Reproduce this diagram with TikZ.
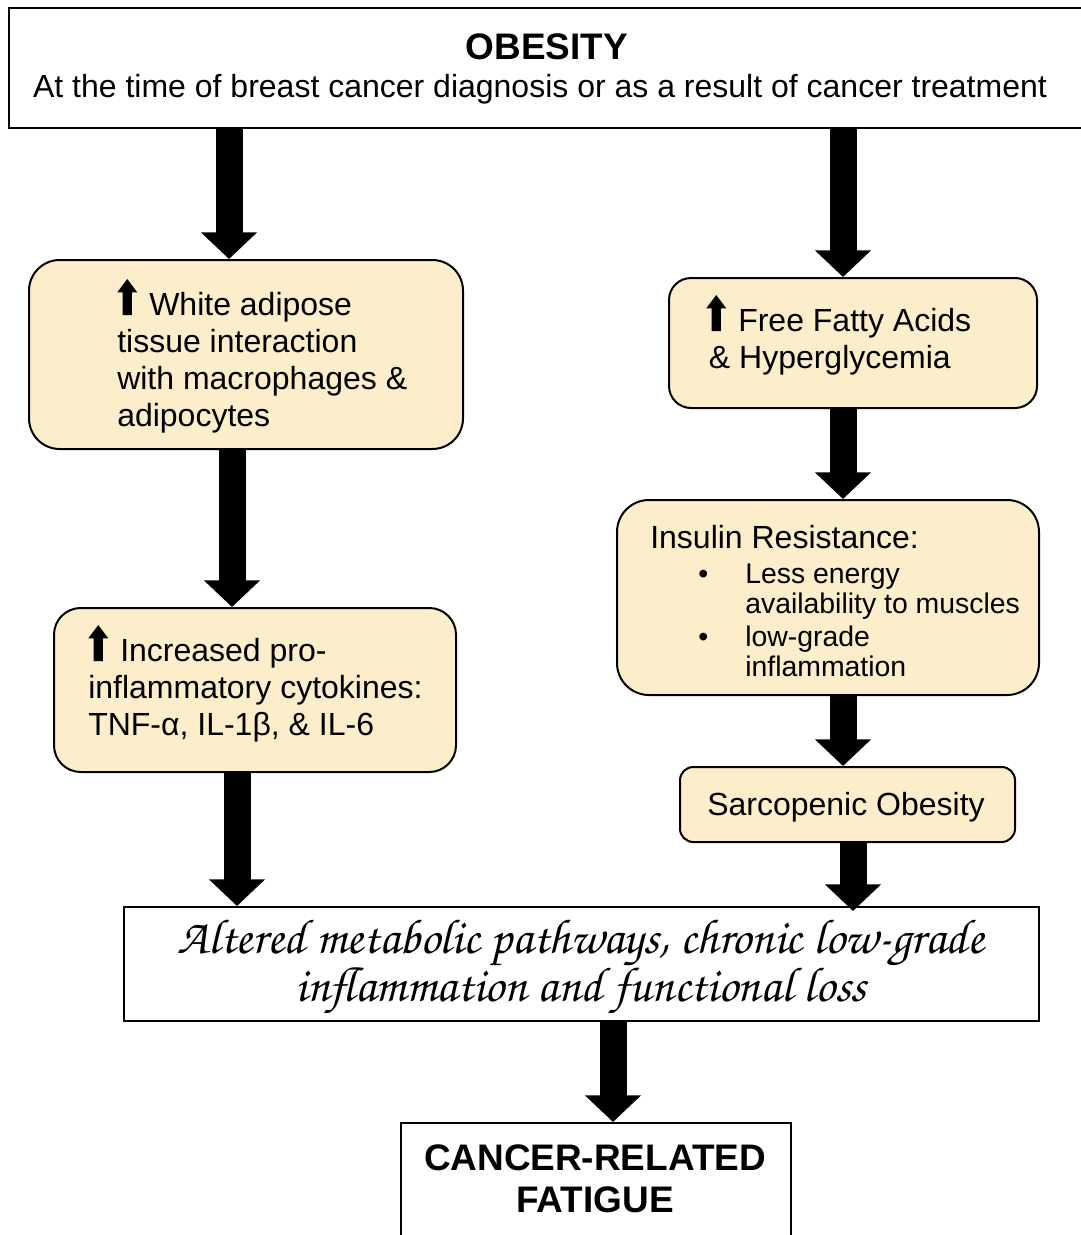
\documentclass[tikz,border=0pt]{standalone}
\usepackage{fontspec}
\setmainfont{Liberation Sans}
\newfontfamily\calli{texgyrechorus-mediumitalic.otf}
\usetikzlibrary{arrows.meta,calc}
\definecolor{boxfill}{HTML}{FCEECB}
\newcommand\upicon{\tikz[baseline=0pt,x=1pt,y=1pt]\fill[black] (-3.5,0) -- (3.5,0) -- (3.5,17) -- (7.5,17) -- (0,27) -- (-7.5,17) -- (-3.5,17) -- cycle;\hspace{9pt}}
\begin{document}
\begin{tikzpicture}[x=0.75pt,y=-0.75pt,
  rbox/.style={draw=black, line width=1.5pt, fill=boxfill, rectangle, inner sep=0pt},
  sbox/.style={draw=black, line width=1.5pt, fill=white, rectangle, inner sep=0pt},
  txt/.style={inner sep=0pt, align=left, anchor=base west, font=\fontsize{24}{27.75}\selectfont},
  smalltxt/.style={inner sep=0pt, align=left, anchor=base west, font=\fontsize{21.3}{22.5}\selectfont},
  ctxt/.style={inner sep=0pt, align=center, anchor=base},
  bigarrow/.style={line width=20.25pt, black, -{Triangle[width=41pt,length=20pt]}}]
\useasboundingbox (0,0) rectangle (1081,1235);
% boxes
\node[sbox, minimum width=814.5pt, minimum height=90pt] (top) at (552,68) {};
\node[rbox, rounded corners=23pt, minimum width=325.5pt, minimum height=141.75pt] (wat) at (246,354.5) {};
\node[rbox, rounded corners=16.5pt, minimum width=276pt, minimum height=97.5pt] (ffa) at (853,343) {};
\node[rbox, rounded corners=20pt, minimum width=301.5pt, minimum height=123pt] (cyto) at (255,690) {};
\node[rbox, rounded corners=24pt, minimum width=316.5pt, minimum height=146.25pt] (ins) at (828,597.5) {};
\node[rbox, rounded corners=10pt, minimum width=251.25pt, minimum height=56.25pt] (sarc) at (847.5,804.5) {};
\node[sbox, minimum width=686.25pt, minimum height=85.5pt] (alt) at (581.5,964) {};
\node[sbox, minimum width=292.5pt, minimum height=95.25pt] (crf) at (596,1186.5) {};
% texts (multi-line nodes are anchored at the baseline of their last line)
\node[ctxt, font=\fontsize{27.7}{32}\selectfont\bfseries] (t1) at (547,59) {OBESITY};
\node[ctxt, font=\fontsize{24}{27.75}\selectfont] (t2) at (540,97.5) {At the time of breast cancer diagnosis or as a result of cancer treatment};
\node[txt] (watt) at (117,426) {\upicon White adipose\\tissue interaction\\with macrophages \&\\adipocytes};
\node[txt] (ffat) at (706,368) {\upicon Free Fatty Acids\\\hspace{2pt}\& Hyperglycemia};
\node[txt] (cytot) at (88,735) {\upicon Increased pro-\\inflammatory cytokines:\\TNF-α, IL-1β, \& IL-6};
\node[txt] (inst) at (650,548) {Insulin Resistance:};
\node[smalltxt] (b1) at (698,583) {•};
\node[smalltxt] (b2) at (698,646) {•};
\node[smalltxt] (i1) at (745,613) {Less energy\\availability to muscles};
\node[smalltxt] (i2) at (745,676) {low-grade\\inflammation};
\node[ctxt, font=\fontsize{24}{27.75}\selectfont] (sarct) at (846,815.5) {Sarcopenic Obesity};
\node[ctxt, font=\fontsize{36.8}{33.75}\selectfont\calli] (altt) at (581,1001) {Altered metabolic pathways, chronic low-grade\\inflammation and functional loss};
\node[ctxt, font=\fontsize{27.7}{31.5}\selectfont\bfseries] (crft) at (595,1212) {CANCER-RELATED\\FATIGUE};
% arrow columns
\coordinate (c1) at (229,0);
\coordinate (c2) at (843,0);
\coordinate (c3) at (232,0);
\coordinate (c6) at (237,0);
\coordinate (c7) at (853,0);
\coordinate (c8) at (613,0);
\draw[bigarrow] (top.south -| c1) -- (wat.north -| c1);
\draw[bigarrow] (top.south -| c2) -- (ffa.north -| c2);
\draw[bigarrow] (wat.south -| c3) -- (cyto.north -| c3);
\draw[bigarrow] (ffa.south -| c2) -- (ins.north -| c2);
\draw[bigarrow] (ins.south -| c2) -- (sarc.north -| c2);
\draw[bigarrow] (cyto.south -| c6) -- (alt.north -| c6);
\draw[bigarrow] (sarc.south -| c7) -- ($(alt.north -| c7)+(0,5)$);
\draw[bigarrow] (alt.south -| c8) -- (crf.north -| c8);
\end{tikzpicture}
\end{document}
